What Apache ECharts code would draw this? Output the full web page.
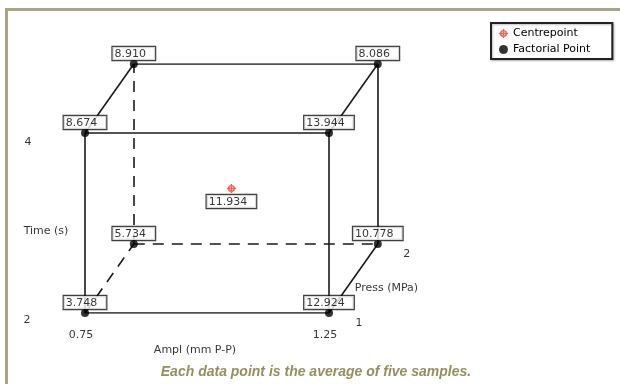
<!DOCTYPE html>
<html>
<head>
<meta charset="utf-8">
<script src="https://cdn.jsdelivr.net/npm/echarts@6/dist/echarts.min.js"></script>
<style>html,body{margin:0;padding:0;background:#fff}#c{width:620px;height:384px}</style>
</head>
<body>
<div id="c"></div>
<script>
// ---- data ----
const amplLevels = [0.75, 1.25];
const pressLevels = [1, 2];
const timeLevels = [2, 4];
const amplTicks = ['0.75', '1.25'];
const pressTicks = ['1', '2'];
const timeTicks = ['2', '4'];

const cornerAmpl  = [0.75, 1.25, 0.75, 1.25, 0.75, 1.25, 0.75, 1.25];
const cornerPress = [1, 1, 1, 1, 2, 2, 2, 2];
const cornerTime  = [2, 2, 4, 4, 2, 2, 4, 4];
const cornerResponse = [3.748, 12.924, 8.674, 13.944, 5.734, 10.778, 8.910, 8.086];

const centreAmpl = [1.0];
const centrePress = [1.5];
const centreTime = [3];
const centreResponse = [11.934];

// cube edges: [from corner, to corner, hidden]
const edges = [
  [0,1,false],[2,3,false],[0,2,false],[1,3,false],
  [6,7,false],[5,7,false],[4,6,true],[4,5,true],
  [2,6,false],[3,7,false],[1,5,false],[0,4,true]
];

// ---- oblique projection of the 3 factors onto a 2D cartesian ----
const DEPTH_X = 0.2, DEPTH_Y = 0.383;
function proj(a, p, t) {
  const u = (a - amplLevels[0]) / (amplLevels[1] - amplLevels[0]);
  const v = (p - pressLevels[0]) / (pressLevels[1] - pressLevels[0]);
  const w = (t - timeLevels[0]) / (timeLevels[1] - timeLevels[0]);
  return [u + DEPTH_X * v, w + DEPTH_Y * v];
}

const corners = cornerResponse.map((r, i) => proj(cornerAmpl[i], cornerPress[i], cornerTime[i]).concat([r]));
const centre = centreResponse.map((r, i) => proj(centreAmpl[i], centrePress[i], centreTime[i]).concat([r]));

const edgeData = edges.map(e => ({
  coords: [corners[e[0]].slice(0, 2), corners[e[1]].slice(0, 2)],
  lineStyle: { type: e[2] ? [11, 8] : 'solid' }
}));

const aMid = (amplLevels[0] + amplLevels[1]) / 2;
const pMid = (pressLevels[0] + pressLevels[1]) / 2;
const tMid = (timeLevels[0] + timeLevels[1]) / 2;
const axisText = [
  { name: amplTicks[0], value: proj(amplLevels[0], pressLevels[0], timeLevels[0]), label: { offset: [-4, 22] } },
  { name: amplTicks[1], value: proj(amplLevels[1], pressLevels[0], timeLevels[0]), label: { offset: [-4, 22] } },
  { name: timeTicks[0], value: proj(amplLevels[0], pressLevels[0], timeLevels[0]), label: { offset: [-58, 7] } },
  { name: timeTicks[1], value: proj(amplLevels[0], pressLevels[0], timeLevels[1]), label: { offset: [-57, 9] } },
  { name: pressTicks[0], value: proj(amplLevels[1], pressLevels[0], timeLevels[0]), label: { offset: [30, 10] } },
  { name: pressTicks[1], value: proj(amplLevels[1], pressLevels[1], timeLevels[0]), label: { offset: [29, 10] } },
  { name: 'Time (s)', value: proj(amplLevels[0], pressLevels[0], tMid), label: { offset: [-39, 8] } },
  { name: 'Ampl (mm P-P)', value: proj(aMid, pressLevels[0], timeLevels[0]), label: { offset: [-12, 37] } },
  { name: 'Press (MPa)', value: proj(amplLevels[1], pMid, timeLevels[0]), label: { offset: [33, 10] } }
];

const FONT = 'DejaVu Sans';
const centreIcon = 'path://M1,5 A4,4 0 1,1 9,5 A4,4 0 1,1 1,5 Z M2.6,5 A2.4,2.4 0 1,0 7.4,5 A2.4,2.4 0 1,0 2.6,5 Z M4.2,0 L5.8,0 L5.8,10 L4.2,10 Z M0,4.2 L10,4.2 L10,5.8 L0,5.8 Z';

const boxLabel = {
  show: true,
  formatter: p => p.value[2].toFixed(3),
  fontFamily: FONT, fontSize: 11, color: '#000', lineHeight: 12,
  backgroundColor: '#fff', borderColor: '#111', borderWidth: 1.2,
  padding: [1, 9, 0, 2]
};

const chart = echarts.init(document.getElementById('c'), null, { renderer: 'canvas' });
chart.setOption({
  animation: false,
  backgroundColor: '#fff',
  grid: { left: 85, top: 64, width: 292.8, height: 249, containLabel: false },
  xAxis: { type: 'value', min: 0, max: 1 + DEPTH_X, show: false },
  yAxis: { type: 'value', min: 0, max: 1 + DEPTH_Y, show: false },
  legend: {
    orient: 'vertical', left: 491, top: 23,
    padding: [5, 22, 4, 8], itemGap: 5, itemWidth: 9, itemHeight: 9,
    borderColor: '#222', borderWidth: 2, backgroundColor: '#fff',
    shadowColor: 'rgba(0,0,0,0.25)', shadowBlur: 2, shadowOffsetX: 1, shadowOffsetY: 1,
    textStyle: { fontFamily: FONT, fontSize: 11, color: '#000' },
    data: [{ name: 'Centrepoint', icon: centreIcon }, { name: 'Factorial Point', icon: 'circle' }]
  },
  graphic: [
    { type: 'line', shape: { x1: 5, y1: 9.5, x2: 620, y2: 9.5 }, style: { stroke: '#a8a48a', lineWidth: 3 } },
    { type: 'line', shape: { x1: 6.5, y1: 8, x2: 6.5, y2: 384 }, style: { stroke: '#a8a48a', lineWidth: 3 } },
    { type: 'text', style: { x: 316, y: 372, text: 'Each data point is the average of five samples.', fill: '#948e62',
      font: 'italic bold 14px "Liberation Sans", Arial, sans-serif', textAlign: 'center', textVerticalAlign: 'middle' } }
  ],
  series: [
    {
      type: 'lines', coordinateSystem: 'cartesian2d', z: 1, silent: true,
      lineStyle: { color: '#1a1a1a', width: 1.6, opacity: 1 },
      data: edgeData
    },
    {
      name: 'Factorial Point', type: 'scatter', z: 3, symbol: 'circle', symbolSize: 8,
      itemStyle: { color: '#000' },
      label: Object.assign({ position: 'top', distance: 0 }, boxLabel),
      data: corners
    },
    {
      name: 'Centrepoint', type: 'scatter', z: 3, symbol: centreIcon, symbolSize: 9,
      itemStyle: { color: '#e8402a' },
      label: Object.assign({ position: 'bottom', distance: 2 }, boxLabel),
      data: centre
    },
    {
      type: 'scatter', z: 2, silent: true, symbolSize: 0,
      label: { show: true, position: 'inside', formatter: p => p.name, fontFamily: FONT, fontSize: 11, color: '#000' },
      data: axisText
    }
  ]
});
</script>
</body>
</html>
